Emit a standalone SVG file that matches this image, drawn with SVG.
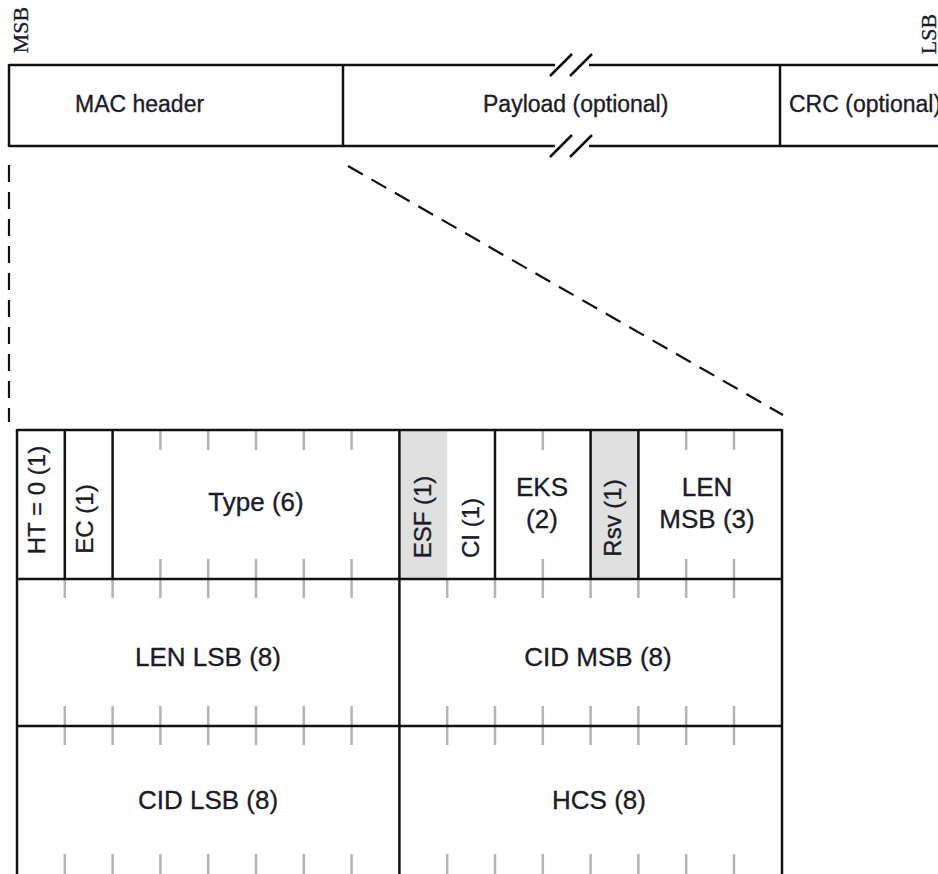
<svg xmlns="http://www.w3.org/2000/svg" width="938" height="874" viewBox="0 0 938 874">
<style>
.ln{stroke:#111;stroke-width:2.5;fill:none}
.tk{stroke:#b4b4b4;stroke-width:2.5}
.dash{stroke:#111;stroke-width:2.2;stroke-dasharray:17 10;fill:none}
.t{font-family:"Liberation Sans",Arial,sans-serif;fill:#1c1c28;stroke:#1c1c28;stroke-width:0.35}
.top{font-size:23px}
.big{font-size:26px;text-anchor:middle}
.rot{font-size:24px;text-anchor:middle}
.ser{font-family:"Liberation Serif","Times New Roman",serif;font-size:22px;fill:#1c1c28;stroke:#1c1c28;stroke-width:0.35;text-anchor:middle}
.sh{fill:#e0e0e0}
</style>
<rect width="938" height="874" fill="#fff"/>
<text class="ser" transform="translate(28,30) rotate(-90)">MSB</text>
<text class="ser" transform="translate(936,34) rotate(-90)">LSB</text>
<g id="frame">
<path class="ln" d="M9,65 H555 M589,65 H940 M9,146 H555 M589,146 H940 M9,64 V147 M343,65 V146 M780,65 V146"/>
<path class="ln" stroke-width="2" d="M550,76 L572,54 M570,76 L592,54 M550,157 L572,135 M570,157 L592,135"/>
<text class="t top" x="75" y="112">MAC header</text>
<text class="t top" x="483" y="112">Payload (optional)</text>
<text class="t top" x="789" y="112">CRC (optional)</text>
</g>
<g id="connectors">
<path class="dash" d="M9,165 V422"/>
<path class="dash" d="M348,166 L783,415"/>
</g>
<g id="table">
<rect class="sh" x="399.4" y="430" width="47.8" height="149"/>
<rect class="sh" x="590.6" y="430" width="47.8" height="149"/>
<g class="tk">
<path d="M160.4,430v20M208.2,430v20M256,430v20M303.8,430v20M351.6,430v20M542.8,430v20M686.2,430v20M734,430v20"/>
<path d="M160.4,579v-20M208.2,579v-20M256,579v-20M303.8,579v-20M351.6,579v-20M542.8,579v-20M686.2,579v-20M734,579v-20"/>
<path d="M64.8,579v19M112.6,579v19M160.4,579v19M208.2,579v19M256,579v19M303.8,579v19M351.6,579v19M447.2,579v19M495,579v19M542.8,579v19M590.6,579v19M638.4,579v19M686.2,579v19M734,579v19"/>
<path d="M64.8,726v-20M112.6,726v-20M160.4,726v-20M208.2,726v-20M256,726v-20M303.8,726v-20M351.6,726v-20M447.2,726v-20M495,726v-20M542.8,726v-20M590.6,726v-20M638.4,726v-20M686.2,726v-20M734,726v-20"/>
<path d="M64.8,726v19M112.6,726v19M160.4,726v19M208.2,726v19M256,726v19M303.8,726v19M351.6,726v19M447.2,726v19M495,726v19M542.8,726v19M590.6,726v19M638.4,726v19M686.2,726v19M734,726v19"/>
<path d="M64.8,874v-20M112.6,874v-20M160.4,874v-20M208.2,874v-20M256,874v-20M303.8,874v-20M351.6,874v-20M447.2,874v-20M495,874v-20M542.8,874v-20M590.6,874v-20M638.4,874v-20M686.2,874v-20M734,874v-20"/>
</g>
<path class="ln" d="M17,430 H782 M17,579 H782 M17,726 H782 M17,429 V880 M782,429 V880 M399.4,429 V880 M64.8,430 V579 M112.6,430 V579 M495,430 V579 M590.6,430 V579 M638.4,430 V579"/>
</g>
<g id="f-ht"><text class="t rot" transform="translate(45,500) rotate(-90)">HT = 0 (1)</text></g>
<g id="f-ec"><text class="t rot" transform="translate(93,519) rotate(-90)">EC (1)</text></g>
<g id="f-type"><text class="t big" x="256" y="511">Type (6)</text></g>
<g id="f-esf"><text class="t rot" transform="translate(431,517) rotate(-90)">ESF (1)</text></g>
<g id="f-ci"><text class="t rot" transform="translate(479,528) rotate(-90)">CI (1)</text></g>
<g id="f-eks"><text class="t big" x="542" y="496">EKS</text><text class="t big" x="542" y="528">(2)</text></g>
<g id="f-rsv"><text class="t rot" transform="translate(621,518) rotate(-90)">Rsv (1)</text></g>
<g id="f-lenmsb"><text class="t big" x="707" y="496">LEN</text><text class="t big" x="707" y="528">MSB (3)</text></g>
<g id="f-lenlsb"><text class="t big" x="208" y="666">LEN LSB (8)</text></g>
<g id="f-cidmsb"><text class="t big" x="598" y="666">CID MSB (8)</text></g>
<g id="f-cidlsb"><text class="t big" x="208" y="809">CID LSB (8)</text></g>
<g id="f-hcs"><text class="t big" x="599" y="809">HCS (8)</text></g>
</svg>
